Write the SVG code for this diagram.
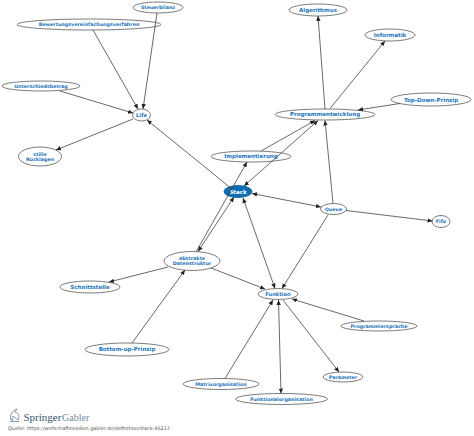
<svg xmlns="http://www.w3.org/2000/svg" width="474" height="436" viewBox="0 0 474 436">
<style>
text{font-family:"DejaVu Sans",sans-serif;font-weight:700;fill:#1b75bb;text-anchor:middle}
.s{font-size:4.8px}.m{font-size:5.2px}.l{font-size:5.5px}
ellipse{fill:#fff;stroke:#5a5a5a;stroke-width:.8}
#connectors line{stroke:#444;stroke-width:.8;marker-end:url(#a)}
#connectors line.b{marker-start:url(#r)}
#logo path{fill:none;stroke:#4a6a80;stroke-width:.7}
</style>
<defs>
<marker id="a" markerUnits="userSpaceOnUse" markerWidth="6" markerHeight="6" refX="5" refY="2.5" orient="auto"><path d="M0 0.300L5 2.500L0 4.700Z" fill="#222"/></marker>
<marker id="r" markerUnits="userSpaceOnUse" markerWidth="6" markerHeight="6" refX="0" refY="2.5" orient="auto"><path d="M5 0.300L0 2.500L5 4.700Z" fill="#222"/></marker>
</defs>
<rect width="474" height="436" fill="#fff"/>
<g id="n-steuerbilanz"><ellipse cx="158" cy="7.500" rx="25" ry="5.500"/><text class="s" x="158" y="9.200">Steuerbilanz</text></g>
<g id="n-bewertung"><ellipse cx="89" cy="24.500" rx="72" ry="5.500"/><text class="s" x="89" y="26.200">Bewertungsvereinfachungsverfahren</text></g>
<g id="n-unterschied"><ellipse cx="41" cy="86" rx="39" ry="5"/><text class="s" x="41" y="87.600">Unterschiedsbetrag</text></g>
<g id="n-life"><ellipse cx="141.500" cy="115" rx="9" ry="6"/><text class="m" x="141.500" y="116.800">Life</text></g>
<g id="n-stille"><ellipse cx="40" cy="156.500" rx="21.500" ry="9.500"/><text class="s" x="40" y="155.500">stille</text><text class="s" x="40" y="161">Rücklagen</text></g>
<g id="n-implementierung"><ellipse cx="251" cy="156.500" rx="40" ry="5.500"/><text class="l" x="251" y="158.400">Implementierung</text></g>
<g id="n-stack"><ellipse cx="238" cy="191.500" rx="14" ry="6" style="fill:#0a6db5;stroke:#0a5c9a"/><text class="l" x="238" y="193.500" style="fill:#fff">Stack</text></g>
<g id="n-algorithmus"><ellipse cx="318" cy="10" rx="29" ry="6"/><text class="l" x="318" y="12">Algorithmus</text></g>
<g id="n-informatik"><ellipse cx="390" cy="35" rx="25" ry="6"/><text class="l" x="390" y="37">Informatik</text></g>
<g id="n-topdown"><ellipse cx="431" cy="99.500" rx="40" ry="6.500"/><text class="l" x="431" y="101.500">Top-Down-Prinzip</text></g>
<g id="n-programmentwicklung"><ellipse cx="325" cy="114.500" rx="50" ry="5.500"/><text class="l" x="325" y="116.400">Programmentwicklung</text></g>
<g id="n-queue"><ellipse cx="333.500" cy="209" rx="13" ry="5.500"/><text class="s" x="333.500" y="210.700">Queue</text></g>
<g id="n-fifo"><ellipse cx="441" cy="221.500" rx="9" ry="6"/><text class="s" x="441" y="223.200">Fifo</text></g>
<g id="n-abstrakte"><ellipse cx="192" cy="261" rx="28" ry="9.500"/><text class="s" x="192" y="260">abstrakte</text><text class="s" x="192" y="265">Datenstruktur</text></g>
<g id="n-schnittstelle"><ellipse cx="90" cy="287" rx="30" ry="6"/><text class="l" x="90" y="288.900">Schnittstelle</text></g>
<g id="n-bottomup"><ellipse cx="127" cy="349.500" rx="42" ry="6.500"/><text class="l" x="127" y="351.400">Bottom-up-Prinzip</text></g>
<g id="n-funktion"><ellipse cx="278" cy="294" rx="20" ry="5.500"/><text class="m" x="278" y="295.800">Funktion</text></g>
<g id="n-programmiersprache"><ellipse cx="379" cy="326" rx="38" ry="5"/><text class="s" x="379" y="327.600">Programmiersprache</text></g>
<g id="n-parameter"><ellipse cx="343" cy="377" rx="20" ry="5"/><text class="s" x="343" y="378.600">Parameter</text></g>
<g id="n-matrix"><ellipse cx="221" cy="384" rx="38" ry="5.500"/><text class="s" x="221" y="385.600">Matrixorganisation</text></g>
<g id="n-funktional"><ellipse cx="281.500" cy="399" rx="46" ry="5.500"/><text class="s" x="281.500" y="400.600">Funktionalorganisation</text></g>
<g id="connectors">
<line x1="157" y1="13" x2="143" y2="109"/>
<line x1="93" y1="30" x2="138" y2="109"/>
<line x1="60" y1="91" x2="133" y2="113"/>
<line x1="133" y1="119" x2="56" y2="150"/>
<line x1="232" y1="189" x2="147" y2="120"/>
<line x1="325" y1="109" x2="318" y2="16"/>
<line x1="330" y1="108.500" x2="385" y2="41"/>
<line x1="400" y1="103.500" x2="358" y2="110"/>
<line x1="261" y1="151" x2="315" y2="120.500"/>
<line class="b" x1="318" y1="120.500" x2="244" y2="186"/>
<line x1="333" y1="203.500" x2="325" y2="120.500"/>
<line class="b" x1="252" y1="193.500" x2="321" y2="207"/>
<line x1="346" y1="210.500" x2="432.500" y2="221"/>
<line x1="328" y1="215" x2="282" y2="288.500"/>
<line class="b" x1="243" y1="198" x2="275" y2="288.500"/>
<line class="b" x1="198" y1="251.500" x2="234" y2="197"/>
<line x1="196" y1="252" x2="247" y2="162"/>
<line x1="168" y1="267" x2="109" y2="282"/>
<line x1="132" y1="343" x2="185" y2="270"/>
<line x1="211" y1="268" x2="265" y2="289"/>
<line x1="225" y1="378.500" x2="273" y2="300"/>
<line class="b" x1="278.500" y1="300" x2="281" y2="393.500"/>
<line x1="283" y1="300" x2="339" y2="372"/>
<line x1="364" y1="321" x2="292" y2="299"/>
</g>
<g id="logo">
<path d="M11 420C9 415 13 410 17 409L15 412C19 413 20 417 18 420C16 418 14 417 13 416C12 418 12 419 13 420ZM10 421.500H19"/>
<text x="23.500" y="420.500" style="font-family:'Liberation Serif',serif;font-weight:400;font-size:11px;fill:#33566e;text-anchor:start">Springer</text>
<text x="62" y="420.500" style="font-family:'Liberation Serif',serif;font-weight:400;font-size:10px;fill:#6d8ba0;text-anchor:start">Gabler</text>
</g>
<text x="8" y="429.500" style="font-weight:400;font-size:4.930px;fill:#555;text-anchor:start">Quelle: https://wirtschaftslexikon.gabler.de/definition/stack-46217</text>
</svg>
